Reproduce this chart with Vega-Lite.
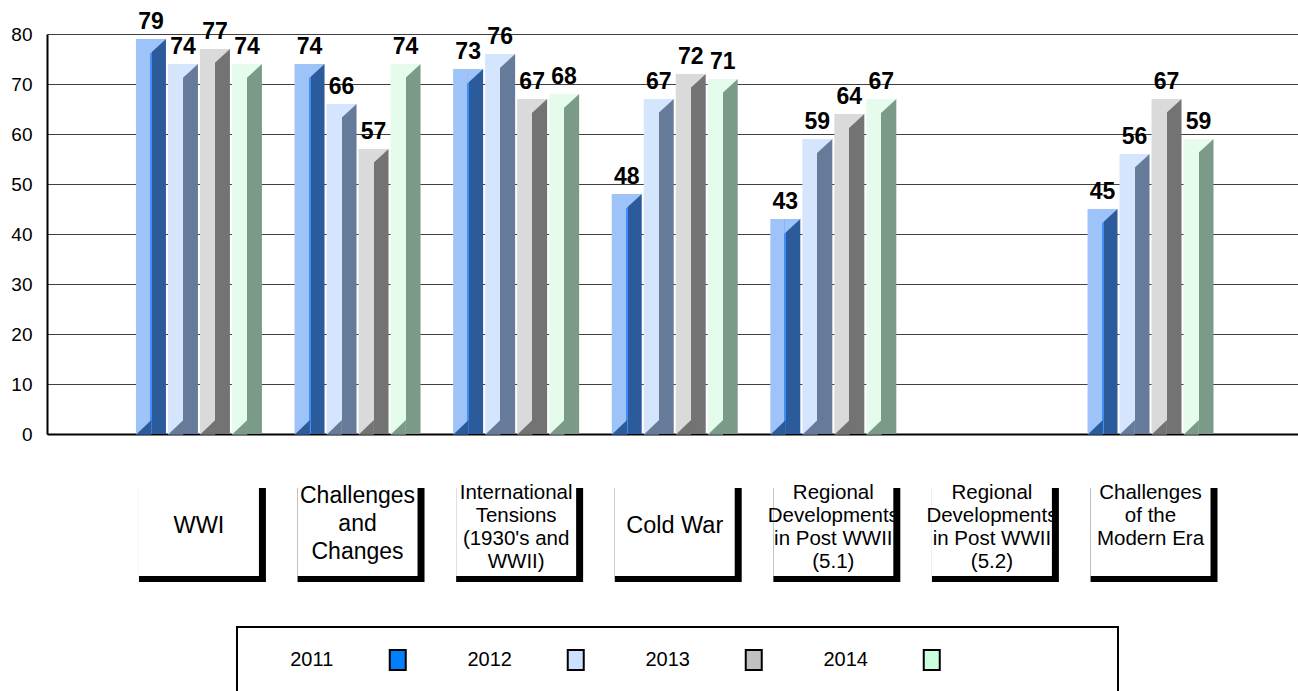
{
  "$schema": "https://vega.github.io/schema/vega-lite/v6.json",
  "width": 1251,
  "height": 400,
  "autosize": {"type": "none"},
  "padding": {"left": 47, "top": 34, "right": 0, "bottom": 257},
  "background": "white",
  "config": {"view": {"stroke": null}, "font": "Liberation Sans"},
  "datasets": {
    "scores": [
      {"cat": "WWI", "year": "2011", "value": 79},
      {"cat": "WWI", "year": "2012", "value": 74},
      {"cat": "WWI", "year": "2013", "value": 77},
      {"cat": "WWI", "year": "2014", "value": 74},
      {"cat": "Challenges and Changes", "year": "2011", "value": 74},
      {"cat": "Challenges and Changes", "year": "2012", "value": 66},
      {"cat": "Challenges and Changes", "year": "2013", "value": 57},
      {"cat": "Challenges and Changes", "year": "2014", "value": 74},
      {"cat": "International Tensions (1930's and WWII)", "year": "2011", "value": 73},
      {"cat": "International Tensions (1930's and WWII)", "year": "2012", "value": 76},
      {"cat": "International Tensions (1930's and WWII)", "year": "2013", "value": 67},
      {"cat": "International Tensions (1930's and WWII)", "year": "2014", "value": 68},
      {"cat": "Cold War", "year": "2011", "value": 48},
      {"cat": "Cold War", "year": "2012", "value": 67},
      {"cat": "Cold War", "year": "2013", "value": 72},
      {"cat": "Cold War", "year": "2014", "value": 71},
      {"cat": "Regional Developments in Post WWII (5.1)", "year": "2011", "value": 43},
      {"cat": "Regional Developments in Post WWII (5.1)", "year": "2012", "value": 59},
      {"cat": "Regional Developments in Post WWII (5.1)", "year": "2013", "value": 64},
      {"cat": "Regional Developments in Post WWII (5.1)", "year": "2014", "value": 67},
      {"cat": "Challenges of the Modern Era", "year": "2011", "value": 45},
      {"cat": "Challenges of the Modern Era", "year": "2012", "value": 56},
      {"cat": "Challenges of the Modern Era", "year": "2013", "value": 67},
      {"cat": "Challenges of the Modern Era", "year": "2014", "value": 59}
    ],
    "cats": [
      {"cat": "WWI", "label": "WWI"},
      {"cat": "Challenges and Changes", "label": "Challenges\nand\nChanges"},
      {"cat": "International Tensions (1930's and WWII)", "label": "International\nTensions\n(1930's and\nWWII)"},
      {"cat": "Cold War", "label": "Cold War"},
      {"cat": "Regional Developments in Post WWII (5.1)", "label": "Regional\nDevelopments\nin Post WWII\n(5.1)"},
      {"cat": "Regional Developments in Post WWII (5.2)", "label": "Regional\nDevelopments\nin Post WWII\n(5.2)"},
      {"cat": "Challenges of the Modern Era", "label": "Challenges\nof the\nModern Era"}
    ],
    "years": [
      {"year": "2011"}, {"year": "2012"}, {"year": "2013"}, {"year": "2014"}
    ],
    "frame": [{"part": "legend frame"}]
  },
  "layer": [
    {
      "layer": [
        {
          "data": {"name": "scores"},
          "transform": [{"filter": "datum.year == '2011'"}],
          "mark": {"type": "bar", "fill": {"gradient": "linear", "x1": 0, "y1": 0, "x2": 1, "y2": 0, "stops": [
            {"offset": 0, "color": "#9dc3f8"}, {"offset": 0.467, "color": "#9dc3f8"},
            {"offset": 0.467, "color": "#3d8ef5"}, {"offset": 0.533, "color": "#3d8ef5"},
            {"offset": 0.533, "color": "#2c5b9c"}, {"offset": 1, "color": "#2c5b9c"}]}},
          "encoding": {
            "x": {"field": "cat", "type": "nominal", "sort": null, "scale": {"domain": ["WWI", "Challenges and Changes", "International Tensions (1930's and WWII)", "Cold War", "Regional Developments in Post WWII (5.1)", "Regional Developments in Post WWII (5.2)", "Challenges of the Modern Era"], "paddingInner": 0.193, "paddingOuter": 0.5405, "align": 0.513},
              "axis": {"labels": false, "ticks": false, "title": null, "grid": false, "domainColor": "black", "domainWidth": 2}},
            "xOffset": {"field": "year", "type": "nominal", "scale": {"domain": ["2011", "2012", "2013", "2014"], "paddingInner": 0.0625, "paddingOuter": 0.03125}},
            "y": {"field": "value", "type": "quantitative", "scale": {"domain": [0, 80], "nice": false},
              "axis": {"values": [0, 10, 20, 30, 40, 50, 60, 70, 80], "title": null, "grid": true, "gridColor": "#404040", "gridWidth": 1, "domainColor": "black", "domainWidth": 2, "ticks": false, "tickSize": 0, "labelPadding": 15, "labelFontSize": 19, "labelColor": "black", "labelFont": "Liberation Sans"}}
          }
        },
        {
          "data": {"name": "scores"},
          "transform": [{"filter": "datum.year == '2012'"}],
          "mark": {"type": "bar", "fill": {"gradient": "linear", "x1": 0, "y1": 0, "x2": 1, "y2": 0, "stops": [
            {"offset": 0, "color": "#d4e5fd"}, {"offset": 0.5, "color": "#d4e5fd"},
            {"offset": 0.5, "color": "#667b99"}, {"offset": 1, "color": "#667b99"}]}},
          "encoding": {
            "x": {"field": "cat", "type": "nominal", "sort": null},
            "xOffset": {"field": "year", "type": "nominal", "scale": {"domain": ["2011", "2012", "2013", "2014"]}},
            "y": {"field": "value", "type": "quantitative", "scale": {"domain": [0, 80], "nice": false}}
          }
        },
        {
          "data": {"name": "scores"},
          "transform": [{"filter": "datum.year == '2013'"}],
          "mark": {"type": "bar", "fill": {"gradient": "linear", "x1": 0, "y1": 0, "x2": 1, "y2": 0, "stops": [
            {"offset": 0, "color": "#dadada"}, {"offset": 0.5, "color": "#dadada"},
            {"offset": 0.5, "color": "#737373"}, {"offset": 1, "color": "#737373"}]}},
          "encoding": {
            "x": {"field": "cat", "type": "nominal", "sort": null},
            "xOffset": {"field": "year", "type": "nominal", "scale": {"domain": ["2011", "2012", "2013", "2014"]}},
            "y": {"field": "value", "type": "quantitative", "scale": {"domain": [0, 80], "nice": false}}
          }
        },
        {
          "data": {"name": "scores"},
          "transform": [{"filter": "datum.year == '2014'"}],
          "mark": {"type": "bar", "fill": {"gradient": "linear", "x1": 0, "y1": 0, "x2": 1, "y2": 0, "stops": [
            {"offset": 0, "color": "#e5fcec"}, {"offset": 0.5, "color": "#e5fcec"},
            {"offset": 0.5, "color": "#7b9b88"}, {"offset": 1, "color": "#7b9b88"}]}},
          "encoding": {
            "x": {"field": "cat", "type": "nominal", "sort": null},
            "xOffset": {"field": "year", "type": "nominal", "scale": {"domain": ["2011", "2012", "2013", "2014"]}},
            "y": {"field": "value", "type": "quantitative", "scale": {"domain": [0, 80], "nice": false}}
          }
        },
        {
          "data": {"name": "scores"},
          "mark": {"type": "point", "shape": "M-0.15,0L2.15,0L-0.15,2.1Z", "size": 196, "filled": true, "opacity": 1, "strokeWidth": 0},
          "encoding": {
            "x": {"field": "cat", "type": "nominal", "sort": null},
            "xOffset": {"field": "year", "type": "nominal", "scale": {"domain": ["2011", "2012", "2013", "2014"]}},
            "y": {"field": "value", "type": "quantitative", "scale": {"domain": [0, 80], "nice": false}},
            "color": {"field": "year", "type": "nominal", "scale": {"domain": ["2011", "2012", "2013", "2014"], "range": ["#9dc3f8", "#d4e5fd", "#dadada", "#e5fcec"]}, "legend": null}
          }
        },
        {
          "data": {"name": "scores"},
          "mark": {"type": "point", "shape": "M-2.1429,0.1L0.05,0.1L0.05,-2Z", "size": 196, "filled": true, "opacity": 1, "strokeWidth": 0},
          "encoding": {
            "x": {"field": "cat", "type": "nominal", "sort": null},
            "xOffset": {"field": "year", "type": "nominal", "scale": {"domain": ["2011", "2012", "2013", "2014"]}},
            "y": {"datum": 0, "type": "quantitative", "scale": {"domain": [0, 80], "nice": false}},
            "fill": {"field": "year", "type": "nominal", "scale": {"domain": ["2011", "2012", "2013", "2014"], "range": ["#2c5b9c", "#667b99", "#737373", "#7b9b88"]}, "legend": null}
          }
        },
        {
          "data": {"name": "scores"},
          "mark": {"type": "text", "baseline": "alphabetic", "align": "center", "dy": -10, "fontSize": 23, "fontWeight": "bold", "font": "Liberation Sans", "color": "black"},
          "encoding": {
            "x": {"field": "cat", "type": "nominal", "sort": null},
            "xOffset": {"field": "year", "type": "nominal", "scale": {"domain": ["2011", "2012", "2013", "2014"]}},
            "y": {"field": "value", "type": "quantitative", "scale": {"domain": [0, 80], "nice": false}},
            "text": {"field": "value", "type": "quantitative"}
          }
        },
        {
          "data": {"name": "cats"},
          "mark": {"type": "bar", "color": "black", "xOffset": 3.5, "width": {"band": 0.992}},
          "encoding": {
            "x": {"field": "cat", "type": "nominal", "sort": null},
            "y": {"datum": -10.8, "type": "quantitative", "scale": {"domain": [0, 80], "nice": false}},
            "y2": {"datum": -29.6}
          }
        },
        {
          "data": {"name": "cats"},
          "mark": {"type": "bar", "color": "white", "width": {"band": 0.9375}},
          "encoding": {
            "x": {"field": "cat", "type": "nominal", "sort": null},
            "y": {"datum": -10.8, "type": "quantitative", "scale": {"domain": [0, 80], "nice": false}},
            "y2": {"datum": -28.4}
          }
        },
        {
          "data": {"name": "cats"},
          "transform": [{"filter": {"field": "cat", "oneOf": ["WWI", "Cold War"]}}],
          "mark": {"type": "text", "baseline": "middle", "align": "center", "fontSize": 23.5, "font": "Liberation Sans", "color": "black"},
          "encoding": {
            "x": {"field": "cat", "type": "nominal", "sort": null},
            "y": {"datum": -18.4, "type": "quantitative", "scale": {"domain": [0, 80], "nice": false}},
            "text": {"field": "label", "type": "nominal"}
          }
        },
        {
          "data": {"name": "cats"},
          "transform": [{"filter": {"field": "cat", "oneOf": ["Challenges and Changes"]}}],
          "mark": {"type": "text", "baseline": "middle", "align": "center", "lineBreak": "\n", "fontSize": 23, "lineHeight": 28, "font": "Liberation Sans", "color": "black"},
          "encoding": {
            "x": {"field": "cat", "type": "nominal", "sort": null},
            "y": {"datum": -12.4, "type": "quantitative", "scale": {"domain": [0, 80], "nice": false}},
            "text": {"field": "label", "type": "nominal"}
          }
        },
        {
          "data": {"name": "cats"},
          "transform": [{"filter": {"not": {"field": "cat", "oneOf": ["WWI", "Challenges and Changes", "Cold War"]}}}],
          "mark": {"type": "text", "baseline": "middle", "align": "center", "lineBreak": "\n", "fontSize": 20.5, "lineHeight": 23, "font": "Liberation Sans", "color": "black"},
          "encoding": {
            "x": {"field": "cat", "type": "nominal", "sort": null},
            "y": {"datum": -11.8, "type": "quantitative", "scale": {"domain": [0, 80], "nice": false}},
            "text": {"field": "label", "type": "nominal"}
          }
        }
      ]
    },
    {
      "data": {"name": "years"},
      "layer": [
        {
          "mark": {"type": "text", "baseline": "middle", "align": "center", "xOffset": -43, "fontSize": 20, "font": "Liberation Sans", "color": "black"},
          "encoding": {
            "x": {"field": "year", "type": "nominal", "scale": {"domain": ["2011", "2012", "2013", "2014"], "range": [218.75, 930.75], "paddingInner": 0, "paddingOuter": 0}, "axis": null},
            "y": {"datum": -45.2, "type": "quantitative", "scale": {"domain": [0, 80], "nice": false}},
            "text": {"field": "year", "type": "nominal"}
          }
        },
        {
          "mark": {"type": "point", "shape": "M-0.8,-1L0.8,-1L0.8,1L-0.8,1Z", "size": 400, "filled": true, "opacity": 1, "stroke": "black", "strokeWidth": 2, "xOffset": 43},
          "encoding": {
            "x": {"field": "year", "type": "nominal", "scale": {"domain": ["2011", "2012", "2013", "2014"], "range": [218.75, 930.75], "paddingInner": 0, "paddingOuter": 0}, "axis": null},
            "y": {"datum": -45.2, "type": "quantitative", "scale": {"domain": [0, 80], "nice": false}},
            "color": {"field": "year", "type": "nominal", "scale": {"domain": ["2011", "2012", "2013", "2014"], "range": ["#0080ff", "#cce0ff", "#c0c0c0", "#ccffdd"]}, "legend": null}
          }
        }
      ]
    },
    {
      "data": {"name": "frame"},
      "mark": {"type": "rect", "filled": false, "stroke": "black", "strokeWidth": 2},
      "encoding": {
        "x": {"datum": 0, "type": "quantitative", "scale": {"domain": [0, 1], "range": [190, 1071], "nice": false, "zero": false}, "axis": null},
        "x2": {"datum": 1},
        "y": {"datum": -38.6, "type": "quantitative", "scale": {"domain": [0, 80], "nice": false}},
        "y2": {"datum": -60}
      }
    }
  ],
  "resolve": {"scale": {"x": "independent", "color": "independent"}}
}
